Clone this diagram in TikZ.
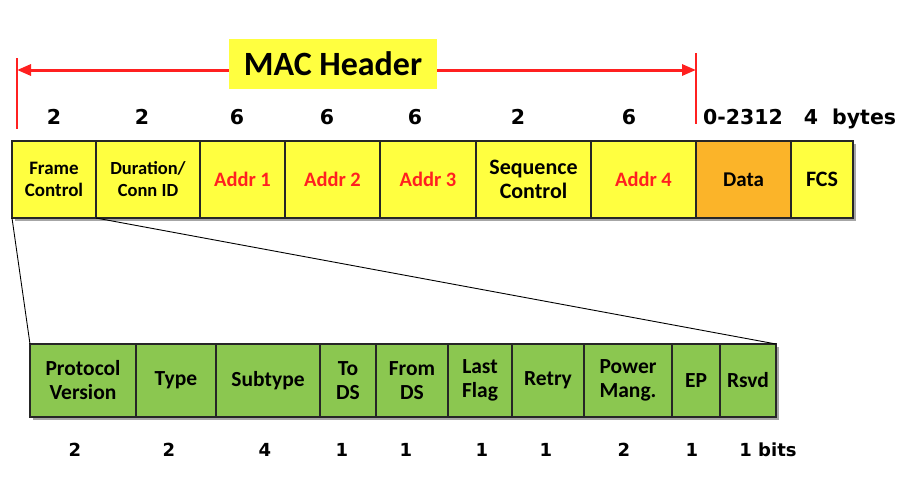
\documentclass[tikz,border=0pt]{standalone}
\usepackage{fontspec}
\setmainfont{Carlito}
\newfontfamily\numfont{DejaVu Sans}
\usetikzlibrary{arrows.meta,positioning,shadows}
\definecolor{hdryellow}{RGB}{255,255,64}
\definecolor{dataorange}{RGB}{251,180,41}
\definecolor{fcgreen}{RGB}{139,199,80}
\definecolor{addrred}{RGB}{255,32,32}

\begin{document}
\begin{tikzpicture}[x=1pt, y=-1pt,
  cell/.style={draw=black!85, line width=1.6pt, fill=hdryellow, minimum height=77pt, inner sep=0pt, outer sep=0pt,
    anchor=north west, align=center, font=\bfseries\fontsize{19}{22}\selectfont,
    drop shadow={shadow xshift=3pt, shadow yshift=-3pt, fill=black, opacity=.35}},
  addr/.style={cell, text=addrred, font=\bfseries\fontsize{20.5}{24}\selectfont},
  bit/.style={cell, fill=fcgreen, minimum height=73pt, font=\bfseries\fontsize{21.5}{24}\selectfont},
  num/.style={anchor=base, inner sep=0pt, font=\numfont\bfseries\fontsize{20.5}{24}\selectfont},
  bitnum/.style={num, font=\numfont\bfseries\fontsize{18}{22}\selectfont},
  >={Triangle[length=14pt, width=11pt]}
]
  \useasboundingbox (0,0) rectangle (901,479);

  % MAC header span
  \coordinate (lt) at (17,58);   \coordinate (lb) at (17,129);
  \coordinate (rt) at (696,53);  \coordinate (rb) at (696,124);
  \coordinate (al) at (17,70);   \coordinate (ar) at (696,70);
  \draw[addrred, line width=2.4pt] (lt) -- (lb);
  \draw[addrred, line width=2.4pt] (rt) -- (rb);
  \draw[addrred, line width=3pt, <->] (al) -- (ar);
  \node[fill=hdryellow, minimum width=208pt, minimum height=50pt, inner sep=0pt,
    font=\bfseries\fontsize{34}{36}\selectfont] (mac) at (333,64) {MAC Header};

  % byte counts
  \node[num] (b1) at (54,124) {2};
  \node[num] (b2) at (142,124) {2};
  \node[num] (b3) at (237,124) {6};
  \node[num] (b4) at (327,124) {6};
  \node[num] (b5) at (415,124) {6};
  \node[num] (b6) at (518,124) {2};
  \node[num] (b7) at (629,124) {6};
  \node[num] (b8) at (743,124) {0-2312};
  \node[num] (b9) at (850,124) {4\hspace{14pt}bytes};

  % frame fields
  \node[cell, minimum width=84pt] (fc) at (12,141) {Frame\\Control};
  \node[cell, minimum width=104pt, font=\bfseries\fontsize{18.5}{22}\selectfont] (dur) at (96,141) {Duration/\\Conn ID};
  \node[addr, minimum width=85pt] (a1) at (200,141) {Addr 1};
  \node[addr, minimum width=95pt] (a2) at (285,141) {Addr 2};
  \node[addr, minimum width=96pt] (a3) at (380,141) {Addr 3};
  \node[cell, minimum width=115pt, font=\bfseries\fontsize{22}{24}\selectfont] (seq) at (476,141) {Sequence\\Control};
  \node[addr, minimum width=105pt] (a4) at (591,141) {Addr 4};
  \node[cell, minimum width=95pt, fill=dataorange, font=\bfseries\fontsize{21}{24}\selectfont] (data) at (696,141) {Data};
  \node[cell, minimum width=62pt, font=\bfseries\fontsize{22}{24}\selectfont] (fcs) at (791,141) {FCS};

  % frame control fields
  \node[bit, minimum width=106pt] (pv) at (30,344) {Protocol\\Version};
  \node[bit, minimum width=80pt] (type) at (136,344) {Type};
  \node[bit, minimum width=104pt] (sub) at (216,344) {Subtype};
  \node[bit, minimum width=56pt] (tods) at (320,344) {To\\DS};
  \node[bit, minimum width=72pt] (fromds) at (376,344) {From\\DS};
  \node[bit, minimum width=64pt] (last) at (448,344) {Last\\Flag};
  \node[bit, minimum width=72pt] (retry) at (512,344) {Retry};
  \node[bit, minimum width=88pt] (pwr) at (584,344) {Power\\Mang.};
  \node[bit, minimum width=48pt] (ep) at (672,344) {EP};
  \node[bit, minimum width=56pt] (rsvd) at (720,344) {Rsvd};

  % bit counts
  \node[bitnum] (c1) at (75,456) {2};
  \node[bitnum] (c2) at (169,456) {2};
  \node[bitnum] (c3) at (265,456) {4};
  \node[bitnum] (c4) at (342,456) {1};
  \node[bitnum] (c5) at (406,456) {1};
  \node[bitnum] (c6) at (482,456) {1};
  \node[bitnum] (c7) at (546,456) {1};
  \node[bitnum] (c8) at (624,456) {2};
  \node[bitnum] (c9) at (692,456) {1};
  \node[bitnum] (c10) at (768,456) {1 bits};

  % zoom lines
  \draw[line width=0.9pt] (fc.south west) -- (pv.north west);
  \draw[line width=0.9pt] (dur.south west) -- (rsvd.north east);
\end{tikzpicture}
\end{document}
